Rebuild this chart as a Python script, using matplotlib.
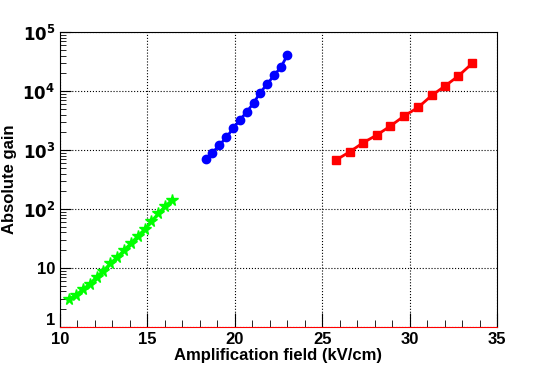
import math

import matplotlib
matplotlib.use('Agg')
import matplotlib.pyplot as plt
import matplotlib.transforms as mtransforms
from matplotlib.ticker import FixedLocator, FuncFormatter, LogLocator, NullFormatter

# Data
green_field = [10.53, 10.92, 11.31, 11.71, 12.10, 12.49, 12.88, 13.27,
               13.67, 14.06, 14.45, 14.84, 15.23, 15.63, 16.02, 16.41]
green_gain = [2.98, 3.49, 4.35, 5.36, 7.13, 9.0, 12.0, 15.2,
              20.2, 26.2, 34.8, 45.3, 61.8, 84.5, 112, 142]

blue_field = [18.33, 18.72, 19.12, 19.52, 19.92, 20.28, 20.68,
              21.08, 21.45, 21.85, 22.25, 22.65, 23.01]
blue_gain = [695, 900, 1216, 1641, 2360, 3222, 4405,
             6325, 9354, 13150, 18450, 25840, 40740]

red_field = [25.79, 26.58, 27.34, 28.12, 28.90, 29.68,
             30.49, 31.27, 32.02, 32.78, 33.58]
red_gain = [677, 936, 1330, 1795, 2552, 3768,
            5297, 8453, 12160, 17950, 29450]

x_ticks = [10, 15, 20, 25, 30, 35]
y_ticks = [1, 10, 100, 1000, 10000, 100000]

plt.rcParams['font.family'] = ['Liberation Sans', 'DejaVu Sans']

fig = plt.figure(figsize=(5.45, 3.69), dpi=100)
ax = fig.add_axes([0.110, 0.114, 0.802, 0.799])

ax.plot(green_field, green_gain, color='#00ff00', lw=2, marker='*', ms=8.5)
ax.plot(blue_field, blue_gain, color='#0000ff', lw=2, marker='o', ms=6)
ax.plot(red_field, red_gain, color='#ff0000', lw=2, marker='s', ms=6)

ax.set_yscale('log')
ax.set_xlim(10, 35)
ax.set_ylim(1, 1e5)

ax.xaxis.set_major_locator(FixedLocator(x_ticks))
ax.xaxis.set_minor_locator(FixedLocator(range(10, 36)))
ax.yaxis.set_major_locator(FixedLocator(y_ticks))
ax.yaxis.set_minor_locator(LogLocator(base=10, subs=[2, 3, 4, 5, 6, 7, 8, 9]))
ax.yaxis.set_minor_formatter(NullFormatter())


def ylab(v, pos):
    if v < 50:
        return '%d' % v
    return r'$\mathbf{10^{%d}}$' % round(math.log10(v))


ax.yaxis.set_major_formatter(FuncFormatter(ylab))

ax.tick_params(which='both', direction='in', top=False, right=False,
               labelsize=12)
ax.tick_params(axis='x', which='major', length=10)
ax.tick_params(axis='x', which='minor', length=5)
ax.tick_params(axis='y', which='major', length=8)
ax.tick_params(axis='y', which='minor', length=4)
for lab in ax.get_xticklabels() + ax.get_yticklabels():
    lab.set_fontweight('bold')

# lift the "1" label a little so it clears the "10" below it
one_label = ax.yaxis.get_major_ticks()[0].label1
one_label.set_transform(one_label.get_transform() +
                        mtransforms.ScaledTranslation(0, 6 / 72, fig.dpi_scale_trans))

ax.grid(True, which='major', color='black', linestyle=':', linewidth=0.8)
ax.spines['bottom'].set_color('#ff0000')

ax.set_xlabel('Amplification field (kV/cm)', fontsize=12, fontweight='bold',
              labelpad=1)
ax.set_ylabel('Absolute gain', fontsize=12, fontweight='bold', labelpad=4)

fig.savefig('out.png', dpi=100)
